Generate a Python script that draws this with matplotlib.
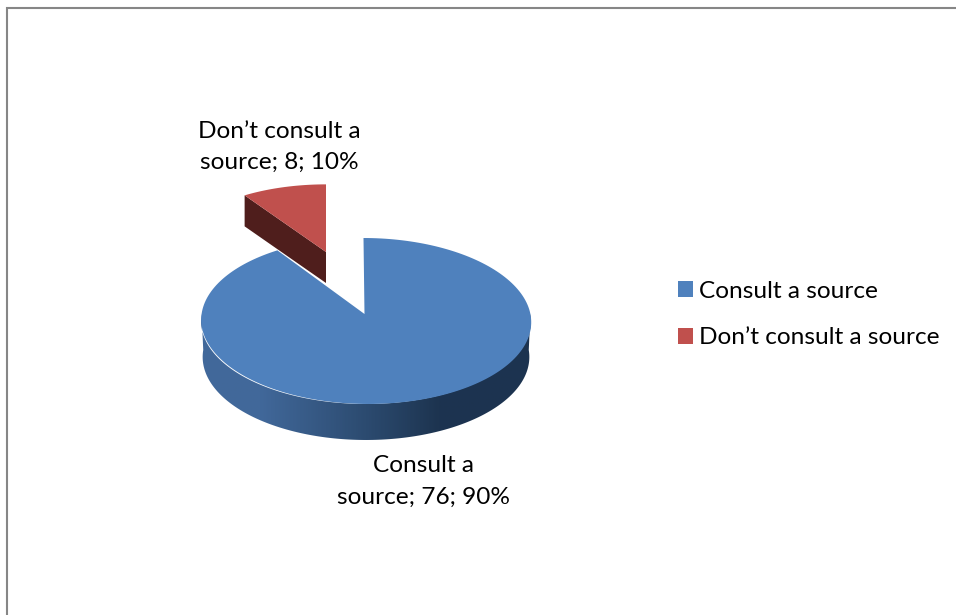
import numpy as np
import matplotlib
matplotlib.use("Agg")
import matplotlib.pyplot as plt
from matplotlib.patches import Polygon, Patch

categories = ["Consult a source", "Don\u2019t consult a source"]
values = [76, 8]
label_lines = [("Consult a", "source"), ("Don\u2019t consult a", "source")]
percent_labels = ["90%", "10%"]

BLUE = "#4F81BD"
RED = "#C0504D"
DARK_RED = "#4F1E1C"
FRAME = "#868686"
FONT = ["Lato", "DejaVu Sans"]
FS = 17.6

W, H = 956, 615
fig = plt.figure(figsize=(W / 100, H / 100), dpi=100, facecolor="white")
ax = fig.add_axes([0, 0, 1, 1])
ax.set_xlim(0, W)
ax.set_ylim(H, 0)
ax.axis("off")

# perspective projection of the tilted unit disc onto the page
B = 0.0843
def project(u, v, cx, cy, sx=1.0, sy=1.0, shear=0.0):
    d = 1 + B * v
    return cx + 164.4 * sx * u / d + shear * v, cy - 82.4 * sy * v / d

def rim(a0, a1, cx, cy, sx=1.0, sy=1.0, shear=0.0, n=200):
    t = np.radians(np.linspace(a0, a1, n))
    return project(np.sin(t), np.cos(t), cx, cy, sx, sy, shear)

total = sum(values)
blue_sweep = 360.0 * values[0] / total

# blue side wall with a horizontal gradient
CX, CY = 366.0, 314.0
DEPTH = 36
tx, ty = rim(90, 270, CX, CY)
side = np.column_stack([np.r_[tx, tx[::-1]], np.r_[ty, ty[::-1] + DEPTH]])
side[len(tx):, 0] = CX + (side[len(tx):, 0] - CX) * 0.99
poly = Polygon(side, closed=True, fc="none", ec="none", zorder=2)
ax.add_patch(poly)
cmap = matplotlib.colors.LinearSegmentedColormap.from_list(
    "side", [(0, "#42699A"), (0.18, "#41689A"), (0.5, "#2C4B70"), (0.72, "#1D3450"), (1, "#1C3350")])
im = ax.imshow(np.linspace(0, 1, 330)[None, :], cmap=cmap, vmin=0, vmax=1,
               extent=(200, 532, 450, 300), aspect="auto", zorder=2)
im.set_clip_path(poly)
ax.set_xlim(0, W)
ax.set_ylim(H, 0)

# blue top face
bx, by = rim(0, blue_sweep, CX, CY, shear=-2.5)
ax.add_patch(Polygon(np.column_stack([np.r_[CX - 1.5, bx], np.r_[CY, by]]), closed=True,
                     fc=BLUE, ec="none", zorder=3))

# exploded red slice
RX, RY = 326.0, 252.0
SX, SY = 0.94, 0.89
RD = 31
rx, ry = rim(blue_sweep, 360, RX, RY, SX, SY)
ax.add_patch(Polygon([(RX, RY), (rx[0], ry[0]), (rx[0], ry[0] + RD), (RX, RY + RD)],
                     closed=True, fc=DARK_RED, ec="none", zorder=2))
ax.add_patch(Polygon(np.column_stack([np.r_[RX, rx], np.r_[RY, ry]]), closed=True,
                     fc=RED, ec="none", zorder=3))

# chart area border
ax.plot([7.5, 7.5, W + 5], [H + 5, 7.5, 7.5], color=FRAME, lw=1.5,
        solid_joinstyle="miter", zorder=1)

# data labels
label_pos = [(424, 481.5), (279.5, 146.5)]
for (first, second), val, pct, (x, y) in zip(label_lines, values, percent_labels, label_pos):
    ax.text(x, y - 15.5, first, ha="center", va="center", family=FONT, fontsize=FS, color="black")
    ax.text(x, y + 15.5, f"{second}; {val}; {pct}", ha="center", va="center",
            family=FONT, fontsize=FS, color="black")

# legend
handles = [Patch(fc=BLUE, ec="none"), Patch(fc=RED, ec="none")]
ax.legend(handles, categories, loc="center left", bbox_to_anchor=(678 / W, 1 - 314.5 / H),
          frameon=False, prop={"family": FONT, "size": FS}, borderpad=0, borderaxespad=0,
          handlelength=0.61, handleheight=0.61, handletextpad=0.25, labelspacing=1.05)

fig.savefig("out.png", dpi=100, facecolor="white")
